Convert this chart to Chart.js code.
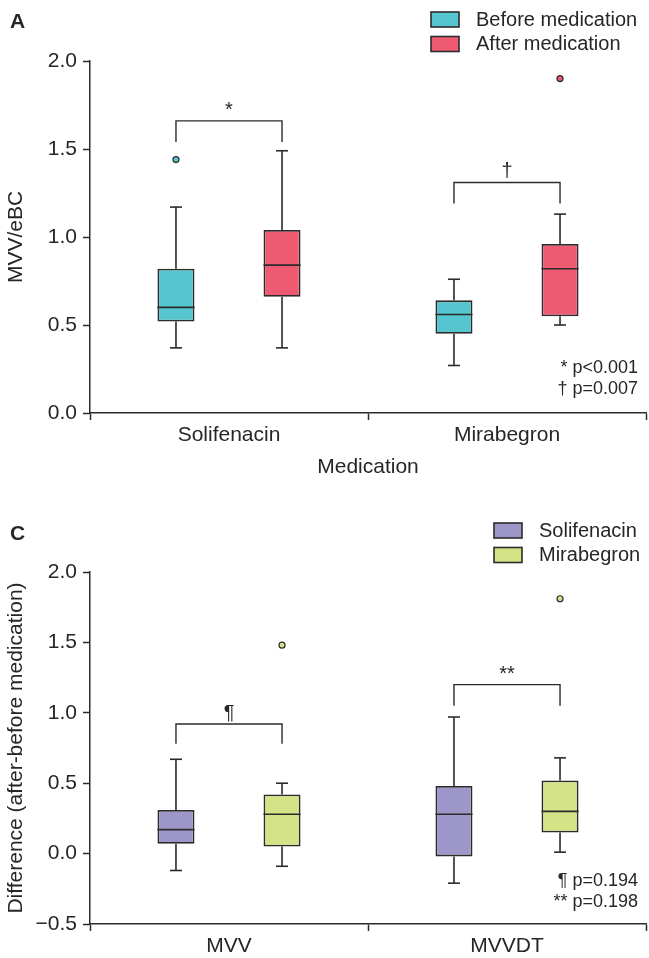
<!DOCTYPE html>
<html>
<head>
<meta charset="utf-8">
<script src="https://cdn.jsdelivr.net/npm/chart.js@4.4.0/dist/chart.umd.min.js"></script>
<style>
  body { margin: 0; background: #fff; }
  canvas { position: absolute; left: 0; }
  #chartA { top: 0; }
  #chartC { top: 490px; }
</style>
</head>
<body>
<canvas id="chartA" width="649" height="490"></canvas>
<canvas id="chartC" width="649" height="468"></canvas>
<script>
// Panel A data: each box is [min, q1, median, q3, max]
const categoriesA = ['Solifenacin', 'Mirabegron'];
const beforeStats = [[0.37, 0.52, 0.60, 0.82, 1.17], [0.27, 0.45, 0.56, 0.64, 0.76]];
const afterStats = [[0.37, 0.66, 0.84, 1.04, 1.49], [0.50, 0.55, 0.82, 0.96, 1.13]];
const beforeOutliers = [[1.44], []];
const afterOutliers = [[], [1.90]];
const bracketTopA = [1.66, 1.31];
const bracketEndA = [1.54, 1.19];
const bracketMarksA = ['*', '†'];
const pValuesA = ['* p<0.001', '† p=0.007'];
const yTicksA = [0, 0.5, 1.0, 1.5, 2.0];

// Panel C data
const categoriesC = ['MVV', 'MVVDT'];
const solifenacinStats = [[-0.12, 0.07, 0.17, 0.31, 0.67], [-0.21, -0.02, 0.28, 0.48, 0.97]];
const mirabegronStats = [[-0.09, 0.05, 0.28, 0.42, 0.50], [0.01, 0.15, 0.30, 0.52, 0.68]];
const solifenacinOutliers = [[], []];
const mirabegronOutliers = [[1.48], [1.81]];
const bracketTopC = [0.92, 1.20];
const bracketEndC = [0.78, 1.05];
const bracketMarksC = ['¶', '**'];
const pValuesC = ['¶ p=0.194', '** p=0.198'];
const yTicksC = [-0.5, 0, 0.5, 1.0, 1.5, 2.0];

const FONT = "'Liberation Sans', Arial, Helvetica, sans-serif";
const INK = '#2b2b2b';
const TEXT = '#262626';

// Plugin that draws whiskers, medians, outliers, brackets, legend and notes
const boxPlotPlugin = {
  id: 'boxPlot',
  afterDatasetsDraw(chart, args, opts) {
    const ctx = chart.ctx;
    const y = chart.scales.y;
    ctx.save();
    ctx.strokeStyle = INK;
    ctx.lineWidth = 1.6;
    const line = (x0, y0, x1, y1) => {
      ctx.beginPath();
      ctx.moveTo(x0, y0);
      ctx.lineTo(x1, y1);
      ctx.stroke();
    };

    chart.data.datasets.forEach((ds, i) => {
      const meta = chart.getDatasetMeta(i);
      meta.data.forEach((bar, j) => {
        const s = ds.stats[j];
        const x = bar.x;
        const half = bar.width / 2;
        const yMin = y.getPixelForValue(s[0]);
        const yQ1 = y.getPixelForValue(s[1]);
        const yMed = y.getPixelForValue(s[2]);
        const yQ3 = y.getPixelForValue(s[3]);
        const yMax = y.getPixelForValue(s[4]);
        line(x, yQ3, x, yMax);
        line(x, yQ1, x, yMin);
        line(x - 6, yMax, x + 6, yMax);
        line(x - 6, yMin, x + 6, yMin);
        line(x - half, yMed, x + half, yMed);
        ds.outliers[j].forEach(v => {
          ctx.beginPath();
          ctx.arc(x, y.getPixelForValue(v), 3, 0, Math.PI * 2);
          ctx.fillStyle = ds.backgroundColor;
          ctx.fill();
          ctx.lineWidth = 1.2;
          ctx.stroke();
          ctx.lineWidth = 1.6;
        });
      });
    });

    // Significance brackets
    const m0 = chart.getDatasetMeta(0);
    const m1 = chart.getDatasetMeta(1);
    ctx.lineWidth = 1.4;
    opts.bracketTop.forEach((top, j) => {
      const x0 = m0.data[j].x;
      const x1 = m1.data[j].x;
      const yt = y.getPixelForValue(top);
      const ye = y.getPixelForValue(opts.bracketEnd[j]);
      ctx.beginPath();
      ctx.moveTo(x0, ye);
      ctx.lineTo(x0, yt);
      ctx.lineTo(x1, yt);
      ctx.lineTo(x1, ye);
      ctx.stroke();
      ctx.fillStyle = TEXT;
      ctx.font = '20px ' + FONT;
      ctx.textAlign = 'center';
      ctx.textBaseline = 'alphabetic';
      ctx.fillText(opts.bracketMarks[j], (x0 + x1) / 2, yt - 5);
    });

    // p-value notes
    ctx.font = '18px ' + FONT;
    ctx.textAlign = 'right';
    ctx.textBaseline = 'middle';
    opts.notes.forEach((t, k) => {
      ctx.fillText(t, 638, opts.notesY + k * 21);
    });

    // Panel letter
    ctx.font = 'bold 21px ' + FONT;
    ctx.textAlign = 'left';
    ctx.fillText(opts.letter, 10, opts.letterY);

    // Legend
    ctx.font = '20px ' + FONT;
    ctx.lineWidth = 1.6;
    chart.data.datasets.forEach((ds, i) => {
      const ly = opts.legendY + i * 24.5;
      ctx.fillStyle = ds.backgroundColor;
      ctx.fillRect(opts.legendX, ly, 28, 15);
      ctx.strokeRect(opts.legendX, ly, 28, 15);
      ctx.fillStyle = TEXT;
      ctx.fillText(ds.label, opts.legendX + 45, ly + 8);
    });
    ctx.restore();
  }
};

// Function to build one box plot panel
function makePanel(id, labels, datasets, yTicks, xTitle, yTitle, padTop, xHeight, extras) {
  const axisGrid = { drawOnChartArea: false, drawTicks: true, tickLength: 7, tickWidth: 1.5, tickColor: INK };
  return new Chart(document.getElementById(id), {
    type: 'bar',
    data: {
      labels: labels,
      datasets: datasets.map(d => ({
        label: d.label,
        data: d.stats.map(s => [s[1], s[3]]),
        stats: d.stats,
        outliers: d.outliers,
        backgroundColor: d.color,
        borderColor: INK,
        borderWidth: 1.8,
        borderSkipped: false,
        categoryPercentage: 0.763,
        barPercentage: 0.349
      }))
    },
    options: {
      responsive: false,
      animation: false,
      layout: { padding: { top: padTop, right: 3, left: 0, bottom: 0 } },
      plugins: {
        legend: { display: false },
        tooltip: { enabled: false },
        boxPlot: extras
      },
      scales: {
        x: {
          grid: Object.assign({ offset: true }, axisGrid),
          border: { color: INK, width: 1.5 },
          ticks: { font: { family: FONT, size: 21 }, color: TEXT, padding: 3 },
          title: { display: !!xTitle, text: xTitle, font: { family: FONT, size: 21 }, color: TEXT, padding: { top: 0, bottom: 10 } },
          afterFit: scale => { scale.height = xHeight; }
        },
        y: {
          min: yTicks[0],
          max: yTicks[yTicks.length - 1],
          afterBuildTicks: scale => { scale.ticks = yTicks.map(v => ({ value: v })); },
          grid: axisGrid,
          border: { color: INK, width: 1.5 },
          ticks: {
            font: { family: FONT, size: 21 },
            color: TEXT,
            padding: 6,
            callback: v => (v < 0 ? '\u2212' + Math.abs(v).toFixed(1) : v.toFixed(1))
          },
          title: { display: true, text: yTitle, font: { family: FONT, size: 21 }, color: TEXT, padding: { top: 4, bottom: 0 } },
          afterFit: scale => { scale.width = 90; }
        }
      }
    },
    plugins: [boxPlotPlugin]
  });
}

makePanel('chartA', categoriesA, [
  { label: 'Before medication', stats: beforeStats, outliers: beforeOutliers, color: '#55C5CF' },
  { label: 'After medication', stats: afterStats, outliers: afterOutliers, color: '#EF5A73' }
], yTicksA, 'Medication', 'MVV/eBC', 61, 77, {
  bracketTop: bracketTopA, bracketEnd: bracketEndA, bracketMarks: bracketMarksA,
  notes: pValuesA, notesY: 368, letter: 'A', letterY: 22, legendX: 431, legendY: 12
});

makePanel('chartC', categoriesC, [
  { label: 'Solifenacin', stats: solifenacinStats, outliers: solifenacinOutliers, color: '#9D97C9' },
  { label: 'Mirabegron', stats: mirabegronStats, outliers: mirabegronOutliers, color: '#D5E387' }
], yTicksC, '', 'Difference (after-before medication)', 82, 34, {
  bracketTop: bracketTopC, bracketEnd: bracketEndC, bracketMarks: bracketMarksC,
  notes: pValuesC, notesY: 391, letter: 'C', letterY: 44, legendX: 494, legendY: 33
});
</script>
</body>
</html>
